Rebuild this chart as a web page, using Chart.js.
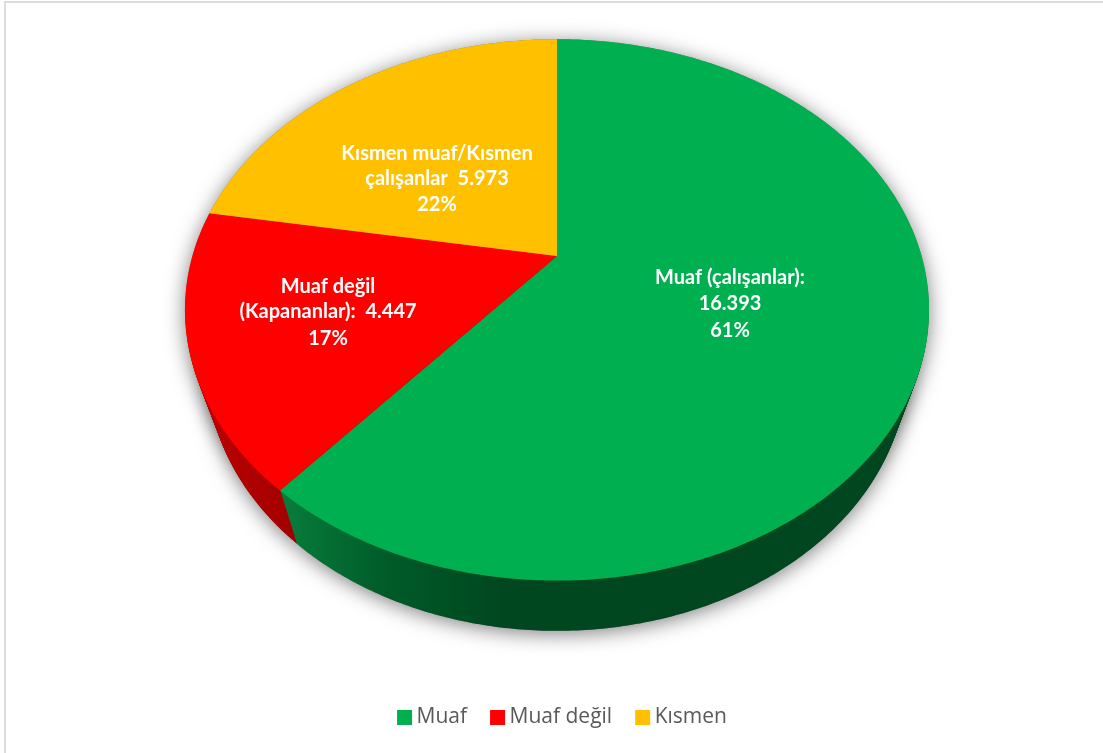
<!DOCTYPE html>
<html lang="tr">
<head>
<meta charset="utf-8">
<title>Muaf</title>
<script src="https://cdn.jsdelivr.net/npm/chart.js@4"></script>
<style>
    html, body { margin: 0; background: #fff; overflow: hidden; }
    #frame { position: absolute; left: 4px; top: 1px; width: 1099px; height: 752px; border-left: 2px solid #dcdcdc; border-top: 2px solid #dcdcdc; box-sizing: border-box; }
    #pieChart { position: absolute; left: 0; top: 0; }
</style>
</head>
<body>
<canvas id="pieChart" width="1103" height="753"></canvas>
<div id="frame"></div>
<script>
// pie values
const categories = ['Muaf', 'Muaf değil', 'Kısmen']
const values = [16393, 4447, 5973]
const sliceColors = ['#00B050', '#FF0000', '#FFC000']
const muafLabel = ['Muaf (çalışanlar):', '16.393', '61%']
const muafDegilLabel = ['Muaf değil', '(Kapananlar):  4.447', '17%']
const kismenLabel = ['Kısmen muaf/Kısmen', 'çalışanlar  5.973', '22%']

// perspective of the tilted disc: where the pie centre lands and how the circle is bent
const apexX = 557
const apexY = 256
const spreadX = 364.6
const spreadY = 260
const tilt = -0.199
const wallDrop = 60
const wallShrinkX = 0.06
const wallShrinkY = 0.03

const proto = CanvasRenderingContext2D.prototype

const project = (x, y, box, t) => {
    const u = (x - box.x) / box.r
    const v = (y - box.y) / box.r
    const d = 1 + tilt * v
    return {
        x: apexX + spreadX * u / d * (1 - wallShrinkX * t),
        y: apexY + wallDrop * t + spreadY * v / d * (1 - wallShrinkY * t)
    }
}

// Chart.js draws its arcs through ctx.arc/lineTo, these send them through project()
const bendContext = (ctx, box, state) => {
    ctx.moveTo = (x, y) => {
        const p = project(x, y, box, state.t)
        proto.moveTo.call(ctx, p.x, p.y)
    }
    ctx.lineTo = (x, y) => {
        const p = project(x, y, box, state.t)
        proto.lineTo.call(ctx, p.x, p.y)
    }
    ctx.arc = (x, y, r, a0, a1, ccw) => {
        const steps = Math.max(2, Math.ceil(Math.abs(a1 - a0) / 0.01))
        for (let i = 0; i <= steps; i++) {
            const a = a0 + (a1 - a0) * i / steps
            const p = project(x + r * Math.cos(a), y + r * Math.sin(a), box, state.t)
            proto.lineTo.call(ctx, p.x, p.y)
        }
    }
}

const unbendContext = (ctx) => {
    delete ctx.moveTo
    delete ctx.lineTo
    delete ctx.arc
}

const wallFill = (ctx, index) => {
    const g = ctx.createLinearGradient(190, 0, 930, 0)
    if (index === 0) {
        g.addColorStop(0, '#0a8a45')
        g.addColorStop(0.135, '#077a3a')
        g.addColorStop(0.27, '#005a28')
        g.addColorStop(0.43, '#00461f')
        g.addColorStop(1, '#00461f')
    } else if (index === 1) {
        g.addColorStop(0, '#c00000')
        g.addColorStop(0.15, '#a00000')
        g.addColorStop(1, '#a00000')
    } else {
        g.addColorStop(0, '#a88000')
        g.addColorStop(1, '#a88000')
    }
    return g
}

const paintSlice = (arc, ctx, fill) => {
    const keep = arc.options
    arc.options = Object.assign({}, keep, { backgroundColor: fill })
    arc.draw(ctx)
    arc.options = keep
}

const bentPie = {
    id: 'bentPie',
    beforeDatasetDraw(chart) {
        const ctx = chart.ctx
        const arcs = chart.getDatasetMeta(0).data
        const box = { x: arcs[0].x, y: arcs[0].y, r: arcs[0].outerRadius }
        const state = { t: 1 }
        bendContext(ctx, box, state)

        // soft shadow under the whole disc
        ctx.save()
        ctx.shadowColor = 'rgba(0,0,0,0.5)'
        ctx.shadowBlur = 20
        ctx.shadowOffsetY = 3
        arcs.forEach((arc, i) => paintSlice(arc, ctx, '#808080'))
        state.t = 0
        arcs.forEach((arc, i) => paintSlice(arc, ctx, '#808080'))
        ctx.restore()

        // side wall, stacked from the bottom face up
        for (let t = 1; t > 0; t -= 0.02) {
            state.t = t
            arcs.forEach((arc, i) => paintSlice(arc, ctx, wallFill(ctx, i)))
        }
        state.t = 0
    },
    afterDatasetDraw(chart) {
        unbendContext(chart.ctx)
    }
}

const sliceLabels = {
    id: 'sliceLabels',
    afterDraw(chart) {
        const ctx = chart.ctx
        const put = (lines, x, ys) => {
            lines.forEach((line, i) => ctx.fillText(line, x, ys[i]))
        }
        ctx.save()
        ctx.fillStyle = '#fff'
        ctx.textAlign = 'center'
        ctx.textBaseline = 'middle'
        ctx.font = 'bold 20px Lato'
        put(muafLabel, 730, [278, 304, 331])
        put(muafDegilLabel, 328, [287, 312, 339])
        put(kismenLabel, 437, [154, 179, 205])
        ctx.restore()
    }
}

new Chart(document.getElementById('pieChart'), {
    type: 'pie',
    data: {
        labels: categories,
        datasets: [{
            data: values,
            backgroundColor: sliceColors,
            borderWidth: 0
        }]
    },
    options: {
        responsive: false,
        animation: false,
        layout: { padding: { bottom: 15, left: 27 } },
        plugins: {
            legend: {
                position: 'bottom',
                labels: {
                    usePointStyle: true,
                    pointStyle: 'rect',
                    boxWidth: 3,
                    boxHeight: 15,
                    padding: 29,
                    color: '#595959',
                    font: { family: 'Open Sans', size: 21 }
                }
            },
            tooltip: { enabled: false }
        }
    },
    plugins: [bentPie, sliceLabels]
})
</script>
</body>
</html>
